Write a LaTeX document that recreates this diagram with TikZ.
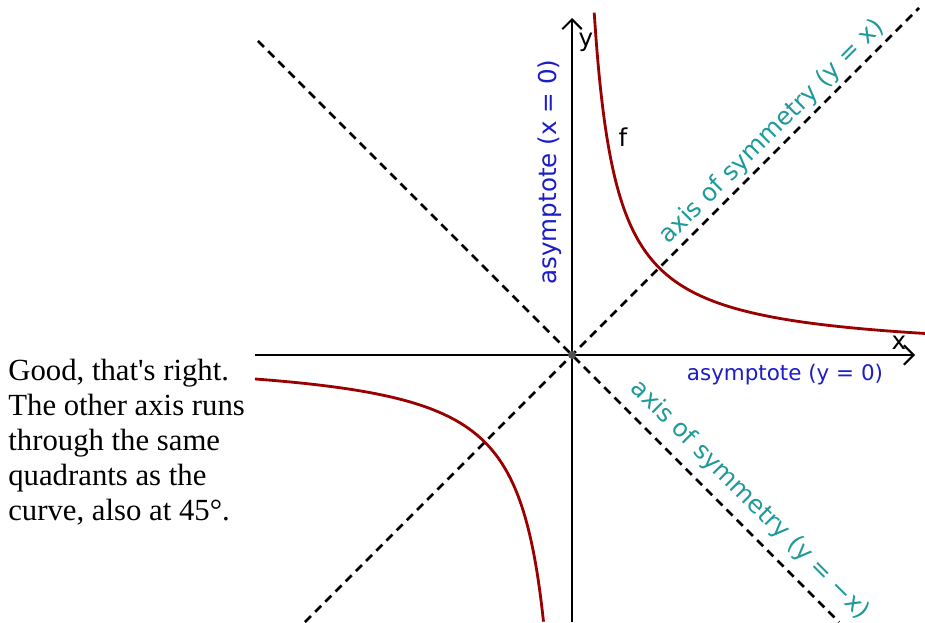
\documentclass[tikz,border=0pt]{standalone}
\usepackage{fontspec}
\setmainfont{Liberation Serif}
\newfontfamily\geofont{DejaVu Sans}
\usepackage{tikz}
\usetikzlibrary{arrows.meta}
\definecolor{hyperred}{HTML}{990000}
\definecolor{asymblue}{HTML}{1C1CC8}
\definecolor{symteal}{HTML}{1F9A9A}
\definecolor{origingray}{HTML}{505050}

\begin{document}
\begin{tikzpicture}[x=0.02cm,y=0.02cm,font=\geofont\fontsize{14}{16}\selectfont,
    axisline/.style={line width=1.2pt,-{Straight Barb[length=5.5pt,width=11pt]}},
    symline/.style={line width=1.6pt,dash pattern=on 4.8pt off 3.4pt},
    branch/.style={hyperred,line width=1.6pt,smooth}]
    \useasboundingbox (-572,-267) rectangle (353,355);
    % view corners and axis ends
    \coordinate (O) at (0,0);
    \coordinate (xl) at (-317,0);
    \coordinate (xr) at (343,0);
    \coordinate (yb) at (0,-267);
    \coordinate (yt) at (0,337);
    \coordinate (dl) at (-267,-267);
    \coordinate (ur) at (347,347);
    \coordinate (ul) at (-314,314);
    \coordinate (lr) at (267,-267);
    % lines of symmetry
    \draw[symline] (dl) -- (ur);
    \draw[symline] (ul) -- (lr);
    % axes
    \draw[axisline] (xl) -- (xr);
    \draw[axisline] (yb) -- (yt);
    % f(x) = k/x
    \draw[branch] plot[domain=22.2:353,samples=160] (\x,{7600/\x});
    \draw[branch] plot[domain=-317:-28.5,samples=160] (\x,{7600/\x});
    \fill[origingray] (O) circle (2.2pt);
    \node (ylab) at (14,313) {y};
    \node (xlab) at (327,12) {x};
    \node (flab) at (51,218) {f};
    \node[asymblue,rotate=90] (vasym) at (-22,183) {asymptote (x = 0)};
    \node[asymblue,font=\geofont\fontsize{12.2}{14}\selectfont] (hasym) at (213,-20) {asymptote (y = 0)};
    \node[symteal,rotate=45] (symup) at (200,223) {axis of symmetry (y = x)};
    \node[symteal,rotate=-45] (symdown) at (178,-145) {axis of symmetry (y = −x)};
    \node[font=\rmfamily\fontsize{17.5}{19.9}\selectfont,align=left,anchor=base west,inner sep=0] (remark) at (-564,-165)
      {Good, that\textquotesingle s right.\\The other axis runs\\through the same\\quadrants as the\\curve, also at 45°.};
  \end{tikzpicture}
\end{document}
